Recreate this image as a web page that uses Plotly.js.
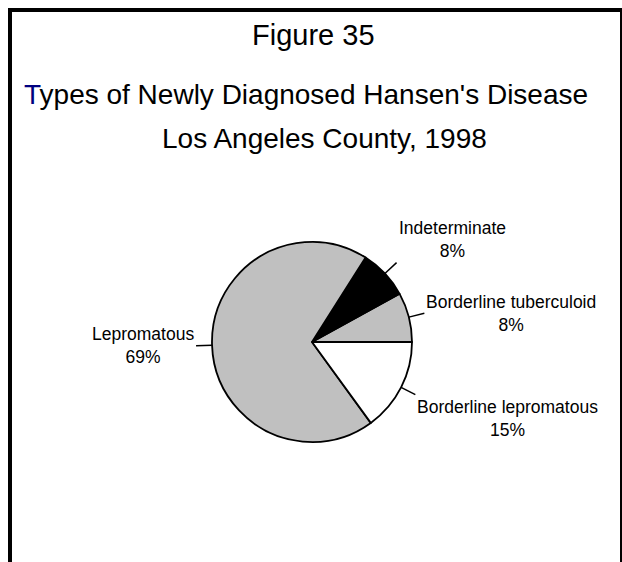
<!DOCTYPE html>
<html>
<head>
<meta charset="utf-8">
<script src="https://cdn.plot.ly/plotly-3.0.1.min.js"></script>
<style>html,body{margin:0;padding:0;background:#fff;}#chart{width:622px;height:562px;}</style>
</head>
<body>
<div id="chart"></div>
<script>
// ---- data ----
const categories = ['Borderline tuberculoid', 'Indeterminate', 'Lepromatous', 'Borderline lepromatous'];
const percents = [8, 8, 69, 15];
const sliceColors = ['#c0c0c0', '#000000', '#c0c0c0', '#ffffff'];
const figureLabel = 'Figure 35';
const titleLine1 = 'Types of Newly Diagnosed Hansen\'s Disease';
const titleLine2 = 'Los Angeles County, 1998';

// ---- layout constants ----
const W = 622, H = 562;
const cx = 312, cy = 342, R = 100, L = 16;
const FONT = 'Liberation Sans, Arial, Helvetica, sans-serif';
const px = x => x / W;
const py = y => 1 - y / H;

const total = percents.reduce((a, b) => a + b, 0);
// Plotly (counterclockwise) ends the first slice at `rotation`; start the first slice at 3 o'clock
const rotation = 90 - percents[0] / total * 360;

const trace = {
  type: 'pie',
  labels: categories,
  values: percents,
  sort: false,
  direction: 'counterclockwise',
  rotation: rotation,
  textinfo: 'none',
  hoverinfo: 'label+percent',
  marker: { colors: sliceColors, line: { color: '#000', width: 1.8 } },
  domain: { x: [px(cx - R), px(cx + R)], y: [py(cy + R), py(cy - R)] },
  showlegend: false
};

// label positions derived from the data (slice mid-angles)
const shapes = [];
const annotations = [];
let cum = 0;
percents.forEach((p, i) => {
  const mid = (cum + p / 2) / total * 2 * Math.PI;
  cum += p;
  const c = Math.cos(mid), s = Math.sin(mid);
  const x0 = cx + R * c, y0 = cy - R * s;
  const x1 = cx + (R + L) * c, y1 = cy - (R + L) * s;
  shapes.push({ type: 'line', xref: 'paper', yref: 'paper', x0: px(x0), y0: py(y0), x1: px(x1), y1: py(y1),
    line: { color: '#000', width: 1.5 } });
  annotations.push({
    xref: 'paper', yref: 'paper', x: px(x1), y: py(y1), showarrow: false,
    xanchor: c >= 0 ? 'left' : 'right',
    yanchor: s > 0.4 ? 'bottom' : (s < -0.4 ? 'top' : 'middle'),
    align: 'center',
    text: categories[i] + '<br>' + p + '%',
    font: { family: FONT, size: 17.5, color: '#000' }
  });
});

// frame
shapes.push({ type: 'path', xref: 'paper', yref: 'paper',
  path: `M ${px(10)} ${py(H)} L ${px(10)} ${py(10)} L ${px(622)} ${py(10)} L ${px(622)} ${py(H)}`,
  line: { color: '#000', width: 4 } });

annotations.push(
  { xref: 'paper', yref: 'paper', x: px(314), y: py(35), showarrow: false, xanchor: 'center', yanchor: 'middle',
    text: figureLabel, font: { family: FONT, size: 29, color: '#000' } },
  { xref: 'paper', yref: 'paper', x: px(305.5), y: py(94), showarrow: false, xanchor: 'center', yanchor: 'middle',
    text: '<span style="color:#000080">' + titleLine1.charAt(0) + '</span>' + titleLine1.slice(1),
    font: { family: FONT, size: 28, color: '#000' } },
  { xref: 'paper', yref: 'paper', x: px(324), y: py(138), showarrow: false, xanchor: 'center', yanchor: 'middle',
    text: titleLine2, font: { family: FONT, size: 28, color: '#000' } }
);

const layout = {
  width: W, height: H,
  margin: { l: 0, r: 0, t: 0, b: 0 },
  paper_bgcolor: '#fff',
  showlegend: false,
  shapes: shapes,
  annotations: annotations,
  font: { family: FONT }
};

Plotly.newPlot('chart', [trace], layout, { displayModeBar: false, staticPlot: true });
</script>
</body>
</html>
